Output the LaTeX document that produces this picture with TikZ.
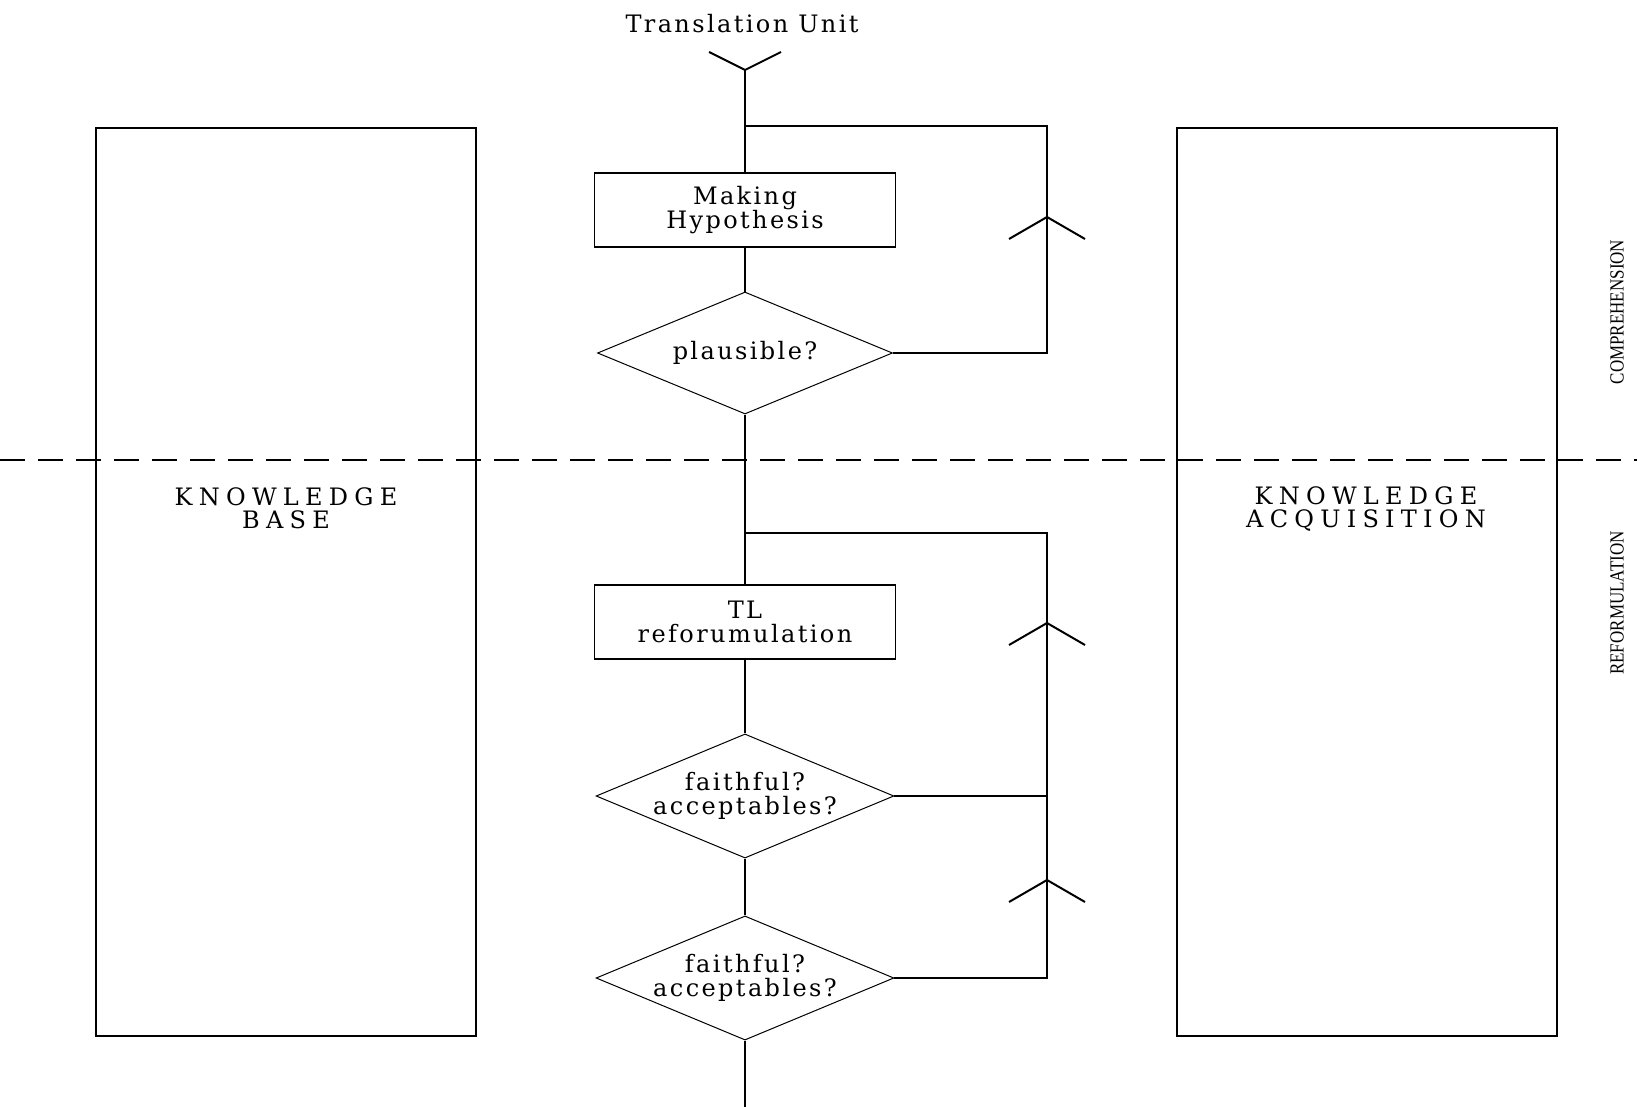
\documentclass[tikz,border=0pt]{standalone}
\usepackage{fontspec}
\setmainfont[LetterSpace=10]{DejaVu Serif}
\newfontfamily\capfont[LetterSpace=26]{DejaVu Serif}
\newfontfamily\sidefont{Liberation Serif}
\usetikzlibrary{shapes.geometric}

\begin{document}
\begin{tikzpicture}[x=0.5pt,y=-0.5pt,font=\fontsize{12}{12.2}\selectfont,
  flw/.style={line width=1pt},
  blk/.style={draw,line width=0.8pt,minimum width=150.5pt,minimum height=37pt,inner sep=0pt,align=center},
  dcs/.style={draw,diamond,line width=0.5pt,minimum width=147.5pt,minimum height=61pt,aspect=2.4,inner sep=0pt,align=center},
  kbx/.style={draw,line width=0.8pt,minimum width=190pt,minimum height=454pt,anchor=north west,inner sep=0pt},
  captxt/.style={font=\capfont\fontsize{12}{11.5}\selectfont,align=center},
  sde/.style={rotate=90,font=\sidefont\fontsize{10}{10}\selectfont},
  chvup/.pic={\draw[flw] (-19pt,-11pt) -- (0,0) -- (19pt,-11pt);},
  chvdn/.pic={\draw[flw] (-18pt,9pt) -- (0,0) -- (18pt,9pt);}]
\useasboundingbox (0,0) rectangle (1637,1107);
\node[kbx] (kbase) at (95,127) {};
\node[kbx] (kacq) at (1176,127) {};
\draw[line width=0.6pt,dash pattern=on 12.5pt off 6.5pt] (0,460) -- (1637,460);
\node[captxt] (kbtxt) at (286,508) {KNOWLEDGE\\BASE};
\node[captxt] (katxt) at (1366,509) {KNOWLEDGE\\ACQUISITION};
\node[sde] (cmp) at (1617,312) {\scalebox{0.85}[1]{COMPREHENSION}};
\node[sde] (rfm) at (1617,603) {\scalebox{0.85}[1]{REFORMULATION}};
\node (title) at (742,24) {Translation Unit};
\coordinate (in) at (745,70);
\coordinate (out) at (745,1107);
\node[blk] (hyp) at (745,210) {Making\\Hypothesis};
\node[dcs] (pls) at (745,353) {plausible?};
\node[blk] (tlr) at (745,622) {TL\\reforumulation};
\node[dcs] (ff1) at (745,796) {faithful?\\acceptables?};
\node[dcs] (ff2) at (745,978) {faithful?\\acceptables?};
\coordinate (j1) at (745,126);
\coordinate (j2) at (745,533);
\coordinate (r1) at (1047,126);
\coordinate (r2) at (1047,533);
\draw[flw] (in) -- (hyp) -- (pls) -- (tlr) -- (ff1) -- (ff2) -- (out);
\draw[flw] (pls.east) -| (r1) -- (j1);
\draw[flw] (ff2.east) -| (r2) -- (j2);
\draw[flw] (ff1.east) -- (ff1.east -| r2);
\pic at (in) {chvdn};
\pic at (1047,217) {chvup};
\pic at (1047,623) {chvup};
\pic at (1047,880) {chvup};
\end{tikzpicture}
\end{document}
